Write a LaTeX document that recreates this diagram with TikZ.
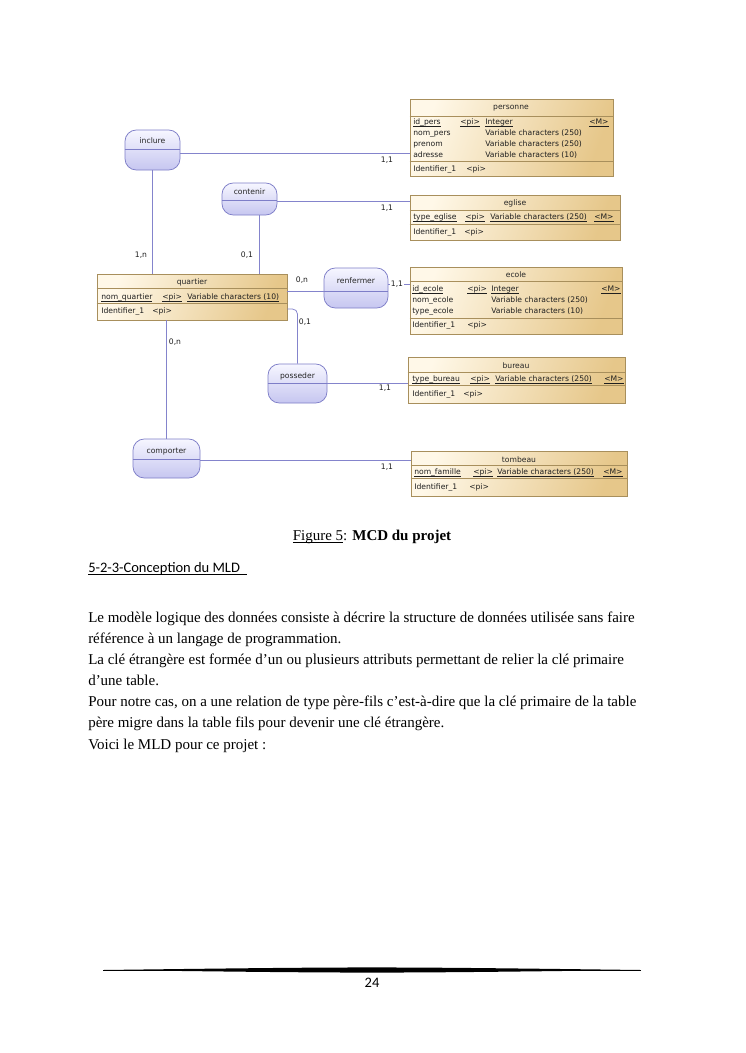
\documentclass[tikz,border=0pt]{standalone}
\usepackage{fontspec}
\setmainfont{Liberation Serif}
\newfontfamily\diafont{DejaVu Sans}
\newfontfamily\califont{Carlito}
\usetikzlibrary{fit}
\definecolor{entL}{HTML}{FFF8E8}
\definecolor{entR}{HTML}{E6C78A}
\definecolor{entDraw}{HTML}{A88F5C}
\definecolor{asTop}{HTML}{F6F6FF}
\definecolor{asBot}{HTML}{C6C6F0}
\definecolor{asDraw}{HTML}{7E7EC8}
\definecolor{linkCol}{HTML}{8484CC}
\newcommand{\diag}{\diafont\fontsize{6.1}{7.3}\selectfont}
\newcommand{\ulk}[1]{\underline{\smash{#1}}}
\begin{document}
\begin{tikzpicture}[x=0.8pt, y=-0.8pt,
    ent/.style={draw=entDraw, line width=0.6pt, left color=entL, right color=entR, shading angle=70, inner sep=0pt},
    assoc/.style={draw=asDraw, line width=0.6pt, top color=asTop, bottom color=asBot, rounded corners=9pt, inner sep=0pt},
    sep/.style={draw=entDraw, line width=0.5pt},
    asep/.style={draw=asDraw, line width=0.5pt},
    link/.style={draw=linkCol, line width=0.6pt},
    attr/.style={anchor=west, inner sep=0pt, text height=4.6pt, text depth=1.4pt, font=\diag, text=black!88},
    ttl/.style={inner sep=0pt, text height=4.6pt, text depth=1.4pt, font=\diag, text=black!85},
    card/.style={inner sep=0.6pt, text height=4.6pt, text depth=1.4pt, font=\diag, text=black!88},
    body/.style={anchor=base west, inner sep=0pt, font=\fontsize{12}{14}\selectfont}]
    \fill[white] (0,0) rectangle (745,1053);
    \useasboundingbox (0,0) rectangle (745,1053);

    % entites
    \node[ent, fit={(410,99) (613,176)}] (personne) {};
    \draw[sep] (personne.west |- 0,116) -- (personne.east |- 0,116);
    \draw[sep] (personne.west |- 0,161) -- (personne.east |- 0,161);
    \node[ttl] (personneT) at (511,107) {personne};
    \node[attr] (pA) at (413,122) {\ulk{id\_pers}};
    \node[attr] (pAk) at (460,122) {\ulk{<pi>}};
    \node[attr] (pAt) at (485,122) {\ulk{Integer}};
    \node[attr] (pAm) at (589,122) {\ulk{<M>}};
    \node[attr] (pB) at (413,133) {nom\_pers};
    \node[attr] (pBt) at (485,133) {Variable characters (250)};
    \node[attr] (pC) at (413,144) {prenom};
    \node[attr] (pCt) at (485,144) {Variable characters (250)};
    \node[attr] (pD) at (413,155) {adresse};
    \node[attr] (pDt) at (485,155) {Variable characters (10)};
    \node[attr] (pI) at (413,169) {Identifier\_1};
    \node[attr] (pIk) at (466,169) {<pi>};

    \node[ent, fit={(410,195) (620,240)}] (eglise) {};
    \draw[sep] (eglise.west |- 0,210) -- (eglise.east |- 0,210);
    \draw[sep] (eglise.west |- 0,224) -- (eglise.east |- 0,224);
    \node[ttl] (egliseT) at (515,203) {eglise};
    \node[attr] (eA) at (413,217) {\ulk{type\_eglise}};
    \node[attr] (eAk) at (465,217) {\ulk{<pi>}};
    \node[attr] (eAt) at (490,217) {\ulk{Variable characters (250)}};
    \node[attr] (eAm) at (594,217) {\ulk{<M>}};
    \node[attr] (eI) at (413,232) {Identifier\_1};
    \node[attr] (eIk) at (464,232) {<pi>};

    \node[ent, fit={(410,267) (622,334)}] (ecole) {};
    \draw[sep] (ecole.west |- 0,281) -- (ecole.east |- 0,281);
    \draw[sep] (ecole.west |- 0,318) -- (ecole.east |- 0,318);
    \node[ttl] (ecoleT) at (516,275) {ecole};
    \node[attr] (oA) at (412,289) {\ulk{id\_ecole}};
    \node[attr] (oAk) at (467,289) {\ulk{<pi>}};
    \node[attr] (oAt) at (491,289) {\ulk{Integer}};
    \node[attr] (oAm) at (601,289) {\ulk{<M>}};
    \node[attr] (oB) at (412,300) {nom\_ecole};
    \node[attr] (oBt) at (491,300) {Variable characters (250)};
    \node[attr] (oC) at (412,311) {type\_ecole};
    \node[attr] (oCt) at (491,311) {Variable characters (10)};
    \node[attr] (oI) at (412,325) {Identifier\_1};
    \node[attr] (oIk) at (467,325) {<pi>};

    \node[ent, fit={(97,274) (287,320)}] (quartier) {};
    \draw[sep] (quartier.west |- 0,288) -- (quartier.east |- 0,288);
    \draw[sep] (quartier.west |- 0,303) -- (quartier.east |- 0,303);
    \node[ttl] (quartierT) at (192,282) {quartier};
    \node[attr] (qA) at (101,297) {\ulk{nom\_quartier}};
    \node[attr] (qAk) at (162,297) {\ulk{<pi>}};
    \node[attr] (qAt) at (187,297) {\ulk{Variable characters (10)}};
    \node[attr] (qI) at (101,311) {Identifier\_1};
    \node[attr] (qIk) at (152,311) {<pi>};

    \node[ent, fit={(408,357) (625,403)}] (bureau) {};
    \draw[sep] (bureau.west |- 0,372) -- (bureau.east |- 0,372);
    \draw[sep] (bureau.west |- 0,385) -- (bureau.east |- 0,385);
    \node[ttl] (bureauT) at (516,366) {bureau};
    \node[attr] (bA) at (412,379) {\ulk{type\_bureau}};
    \node[attr] (bAk) at (470,379) {\ulk{<pi>}};
    \node[attr] (bAt) at (495,379) {\ulk{Variable characters (250)}};
    \node[attr] (bAm) at (604,379) {\ulk{<M>}};
    \node[attr] (bI) at (412,394) {Identifier\_1};
    \node[attr] (bIk) at (463,394) {<pi>};

    \node[ent, fit={(411,451) (627,496)}] (tombeau) {};
    \draw[sep] (tombeau.west |- 0,465) -- (tombeau.east |- 0,465);
    \draw[sep] (tombeau.west |- 0,478) -- (tombeau.east |- 0,478);
    \node[ttl] (tombeauT) at (519,460) {tombeau};
    \node[attr] (tA) at (414,472) {\ulk{nom\_famille}};
    \node[attr] (tAk) at (473,472) {\ulk{<pi>}};
    \node[attr] (tAt) at (497,472) {\ulk{Variable characters (250)}};
    \node[attr] (tAm) at (603,472) {\ulk{<M>}};
    \node[attr] (tI) at (414,487) {Identifier\_1};
    \node[attr] (tIk) at (469,487) {<pi>};

    % associations
    \node[assoc, fit={(125,130) (180,170)}] (inclure) {};
    \draw[asep] (inclure.west |- 0,149) -- (inclure.east |- 0,149);
    \node[ttl] (inclureT) at (152.5,141) {inclure};
    \node[assoc, fit={(222,183) (277,215)}] (contenir) {};
    \draw[asep] (contenir.west |- 0,200) -- (contenir.east |- 0,200);
    \node[ttl] (contenirT) at (249.5,192) {contenir};
    \node[assoc, fit={(324,268) (388,308)}] (renfermer) {};
    \draw[asep] (renfermer.west |- 0,291) -- (renfermer.east |- 0,291);
    \node[ttl] (renfermerT) at (356,281) {renfermer};
    \node[assoc, fit={(268,364) (327,403)}] (posseder) {};
    \draw[asep] (posseder.west |- 0,383) -- (posseder.east |- 0,383);
    \node[ttl] (possederT) at (297.5,376) {posseder};
    \node[assoc, fit={(133,439) (200,478)}] (comporter) {};
    \draw[asep] (comporter.west |- 0,459) -- (comporter.east |- 0,459);
    \node[ttl] (comporterT) at (166.5,451) {comporter};

    % liens
    \draw[link] (inclure.east |- 0,153) -- (personne.west |- 0,153);
    \draw[link] (inclure.south) -- (inclure.south |- quartier.north);
    \draw[link] (contenir.east |- 0,201) -- (eglise.west |- 0,201);
    \draw[link] (259,0 |- contenir.south) -- (259,0 |- quartier.north);
    \draw[link] (quartier.east |- 0,291) -- (renfermer.west |- 0,291);
    \draw[link] (renfermer.east |- 0,284) -- (ecole.west |- 0,284);
    \draw[link, rounded corners=4pt] (quartier.east |- 0,309) -| (posseder.north);
    \draw[link] (posseder.east) -- (posseder.east -| bureau.west);
    \draw[link] (comporter.south |- quartier.south) -- (comporter.north);
    \draw[link] (comporter.east |- 0,460) -- (tombeau.west |- 0,460);

    % cardinalites
    \node[card] (c1) at (387,160) {1,1};
    \node[card] (c2) at (141,255) {1,n};
    \node[card] (c3) at (247,255) {0,1};
    \node[card] (c4) at (387,208) {1,1};
    \node[card] (c5) at (302,280) {0,n};
    \node[card, fill=white] (c6) at (397,284) {1,1};
    \node[card] (c7) at (305,322) {0,1};
    \node[card] (c8) at (385,388) {1,1};
    \node[card] (c9) at (175,342) {0,n};
    \node[card] (c10) at (387,467) {1,1};

    % texte de la page
    \node[anchor=base, inner sep=0pt, font=\fontsize{12}{14}\selectfont] (legende) at (372,540) {\ulk{Figure 5}: \textbf{MCD du projet}};
    \node[anchor=base west, inner sep=0pt, font=\califont\fontsize{11.6}{13}\selectfont] (titre) at (88,572) {\ulk{5-2-3-Conception du MLD\ \ }};
    \node[body] (l1) at (88,622) {Le modèle logique des données consiste à décrire la structure de données utilisée sans faire};
    \node[body] (l2) at (88,643) {référence à un langage de programmation.};
    \node[body] (l3) at (88,664) {La clé étrangère est formée d’un ou plusieurs attributs permettant de relier la clé primaire};
    \node[body] (l4) at (88,685.5) {d’une table.};
    \node[body] (l5) at (88,706.5) {Pour notre cas, on a une relation de type père-fils c’est-à-dire que la clé primaire de la table};
    \node[body] (l6) at (88,727.5) {père migre dans la table fils pour devenir une clé étrangère.};
    \node[body] (l7) at (88,749) {Voici le MLD pour ce projet :};

    % pied de page
    \draw[line width=0.5pt] (103,970) -- (641,970);
    \fill[black] (103,970) .. controls (372,966.6) .. (641,970) .. controls (372,973.4) .. (103,970) -- cycle;
    \node[anchor=base, inner sep=0pt, font=\califont\fontsize{11.6}{13}\selectfont] (page) at (372,987) {24};
\end{tikzpicture}
\end{document}
